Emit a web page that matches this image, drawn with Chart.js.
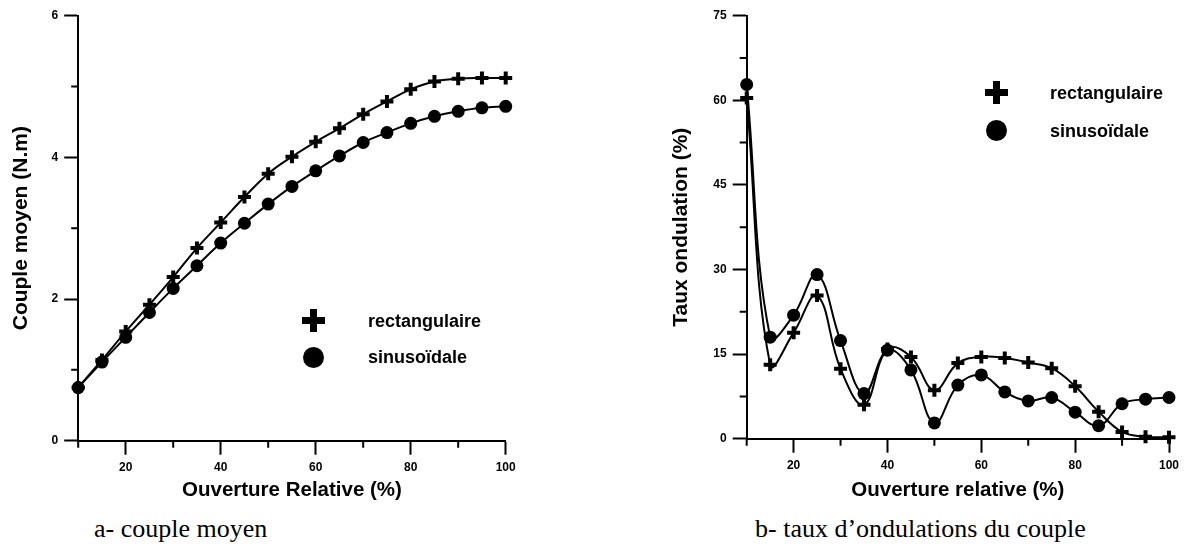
<!DOCTYPE html>
<html>
<head>
<meta charset="utf-8">
<script src="https://cdn.jsdelivr.net/npm/chart.js@4.4.1/dist/chart.umd.min.js"></script>
<style>
    body { margin: 0; background: #fff; width: 1186px; height: 547px; position: relative; overflow: hidden; }
    canvas { position: absolute; top: 0; }
    .caption { position: absolute; top: 516px; font-family: 'Liberation Serif', 'Times New Roman', serif; font-size: 26px; line-height: 26px; color: #000; white-space: nowrap; }
    .leg-text { position: absolute; font-family: 'Liberation Sans', Arial, sans-serif; font-weight: bold; font-size: 18px; line-height: 18px; color: #000; white-space: nowrap; }
    .mk { position: absolute; }
    .mk-circle { width: 21px; height: 21px; border-radius: 50%; background: #000; }
    .mk-plus { width: 23px; height: 23px; }
    .mk-plus::before, .mk-plus::after { content: ''; position: absolute; background: #000; }
    .mk-plus::before { left: 0; top: 8px; width: 23px; height: 7px; }
    .mk-plus::after { left: 8px; top: 0; width: 7px; height: 23px; }
</style>
</head>
<body>
<canvas id="chartA" width="593" height="510" style="left:0"></canvas>
<canvas id="chartB" width="593" height="510" style="left:593px"></canvas>
<div class="caption" style="left:94px">a- couple moyen</div>
<div class="caption" style="left:755px">b- taux d’ondulations du couple</div>
<script>
// opening (%) where both supplies were simulated
const openings = [10, 15, 20, 25, 30, 35, 40, 45, 50, 55, 60, 65, 70, 75, 80, 85, 90, 95, 100];

// a- mean torque (N.m)
const coupleRect = [0.75, 1.14, 1.54, 1.92, 2.31, 2.72, 3.08, 3.44, 3.77, 4.01, 4.22, 4.41, 4.61, 4.79, 4.96, 5.07, 5.11, 5.12, 5.12];
const coupleSin = [0.75, 1.11, 1.46, 1.81, 2.15, 2.47, 2.79, 3.07, 3.34, 3.59, 3.81, 4.02, 4.21, 4.35, 4.48, 4.58, 4.65, 4.70, 4.72];

// b- torque ripple (%)
const rippleRect = [60.4, 13.1, 18.8, 25.4, 12.4, 6.0, 15.9, 14.5, 8.6, 13.4, 14.5, 14.3, 13.5, 12.5, 9.3, 4.8, 1.2, 0.35, 0.25];
const rippleSin = [62.8, 18.0, 21.9, 29.1, 17.4, 8.0, 15.7, 12.2, 2.8, 9.5, 11.3, 8.3, 6.7, 7.3, 4.7, 2.3, 6.2, 7.0, 7.3];

const seriesNames = ['rectangulaire', 'sinusoïdale'];

// axis ticks
const xTicks = [10, 20, 30, 40, 50, 60, 70, 80, 90, 100];
const xMajor = [20, 40, 60, 80, 100];
const coupleTicks = [0, 1, 2, 3, 4, 5, 6];
const coupleMajor = [0, 2, 4, 6];
const rippleTicks = [0, 7.5, 15, 22.5, 30, 37.5, 45, 52.5, 60, 67.5, 75];
const rippleMajor = [0, 15, 30, 45, 60, 75];

Chart.defaults.font.family = "'Liberation Sans', Arial, sans-serif";
Chart.defaults.color = '#000';

function toPoints(values) {
    return openings.map((x, i) => ({ x: x, y: values[i] }));
}

// short ticks for the values that have no label
const minorTicks = {
    id: 'minorTicks',
    afterDraw(chart, args, opts) {
        const ctx = chart.ctx;
        const xs = chart.scales.x;
        const ys = chart.scales.y;
        ctx.save();
        ctx.strokeStyle = '#000';
        ctx.lineWidth = 2;
        ctx.beginPath();
        opts.x.forEach(v => {
            const px = xs.getPixelForValue(v);
            ctx.moveTo(px, xs.top);
            ctx.lineTo(px, xs.top + opts.length);
        });
        opts.y.forEach(v => {
            const py = ys.getPixelForValue(v);
            ctx.moveTo(ys.right, py);
            ctx.lineTo(ys.right - opts.length, py);
        });
        ctx.stroke();
        ctx.restore();
    }
};

function datasets(rect, sin) {
    return [
        {
            label: seriesNames[0],
            data: toPoints(rect),
            borderColor: '#000',
            borderWidth: 2,
            tension: 0.4,
            pointStyle: 'cross',
            pointRadius: 6.5,
            pointBorderWidth: 4,
            pointBorderColor: '#000',
            clip: false
        },
        {
            label: seriesNames[1],
            data: toPoints(sin),
            borderColor: '#000',
            borderWidth: 2,
            tension: 0.4,
            pointStyle: 'circle',
            pointRadius: 6.5,
            pointBorderWidth: 0,
            pointBackgroundColor: '#000',
            clip: false
        }
    ];
}

function buildChart(id, opts) {
    const ctx = document.getElementById(id).getContext('2d');
    return new Chart(ctx, {
        type: 'line',
        data: { datasets: datasets(opts.rect, opts.sin) },
        plugins: [minorTicks],
        options: {
            responsive: false,
            animation: false,
            layout: { padding: { left: opts.padLeft, right: opts.padRight, top: 15.7, bottom: 0 } },
            plugins: {
                legend: { display: false },
                tooltip: { enabled: false },
                minorTicks: {
                    x: xTicks.filter(v => !xMajor.includes(v)),
                    y: opts.yTicks.filter(v => !opts.yMajor.includes(v)),
                    length: 7
                }
            },
            scales: {
                x: {
                    type: 'linear',
                    min: 10,
                    max: 100,
                    afterBuildTicks: s => { s.ticks = xTicks.map(v => ({ value: v })); },
                    afterFit: s => { s.height = opts.xHeight; },
                    border: { display: true, color: '#000', width: 2 },
                    grid: {
                        drawOnChartArea: false,
                        tickLength: 14,
                        tickWidth: 2,
                        tickColor: c => (c.tick && xMajor.includes(c.tick.value)) ? '#000' : 'rgba(0,0,0,0)'
                    },
                    ticks: {
                        padding: 6,
                        maxRotation: 0,
                        autoSkip: false,
                        font: { size: 12, weight: 'bold' },
                        callback: v => xMajor.includes(v) ? String(v) : ''
                    },
                    title: {
                        display: true,
                        text: opts.xTitle,
                        font: { size: 20.5, weight: 'bold' },
                        padding: { top: 0, bottom: 7.7 }
                    }
                },
                y: {
                    type: 'linear',
                    min: opts.yMin,
                    max: opts.yMax,
                    afterBuildTicks: s => { s.ticks = opts.yTicks.map(v => ({ value: v })); },
                    afterFit: s => { s.width = opts.yWidth; },
                    border: { display: true, color: '#000', width: 2 },
                    grid: {
                        drawOnChartArea: false,
                        tickLength: 14,
                        tickWidth: 2,
                        tickColor: c => (c.tick && opts.yMajor.includes(c.tick.value)) ? '#000' : 'rgba(0,0,0,0)'
                    },
                    ticks: {
                        padding: 6,
                        autoSkip: false,
                        font: { size: 12, weight: 'bold' },
                        callback: v => opts.yMajor.includes(v) ? String(v) : ''
                    },
                    title: {
                        display: true,
                        text: opts.yTitle,
                        font: { size: 21, weight: 'bold' },
                        padding: { top: 9, bottom: 0 }
                    }
                }
            }
        }
    });
}

function addLegend(markerX, textX, rows) {
    const markers = ['mk-plus', 'mk-circle'];
    const sizes = [23, 21];
    rows.forEach((row, i) => {
        const mk = document.createElement('div');
        mk.className = 'mk ' + markers[i];
        mk.style.left = (markerX - sizes[i] / 2) + 'px';
        mk.style.top = (row.marker - sizes[i] / 2) + 'px';
        document.body.appendChild(mk);

        const txt = document.createElement('div');
        txt.className = 'leg-text';
        txt.style.left = textX + 'px';
        txt.style.top = row.text + 'px';
        txt.textContent = seriesNames[i];
        document.body.appendChild(txt);
    });
}

buildChart('chartA', {
    rect: coupleRect,
    sin: coupleSin,
    padLeft: 0,
    padRight: 87.3,
    yWidth: 78.2,
    xHeight: 69.3,
    yMin: 0,
    yMax: 6,
    yTicks: coupleTicks,
    yMajor: coupleMajor,
    xTitle: 'Ouverture Relative (%)',
    yTitle: 'Couple moyen (N.m)'
});

buildChart('chartB', {
    rect: rippleRect,
    sin: rippleSin,
    padLeft: 67.1,
    padRight: 17,
    yWidth: 86.6,
    xHeight: 71.3,
    yMin: 0,
    yMax: 75,
    yTicks: rippleTicks,
    yMajor: rippleMajor,
    xTitle: 'Ouverture relative (%)',
    yTitle: 'Taux ondulation (%)'
});

addLegend(313.5, 368, [{ marker: 320, text: 311.5 }, { marker: 357, text: 348 }]);
addLegend(996, 1050, [{ marker: 92, text: 84 }, { marker: 130, text: 121.5 }]);
</script>
</body>
</html>
